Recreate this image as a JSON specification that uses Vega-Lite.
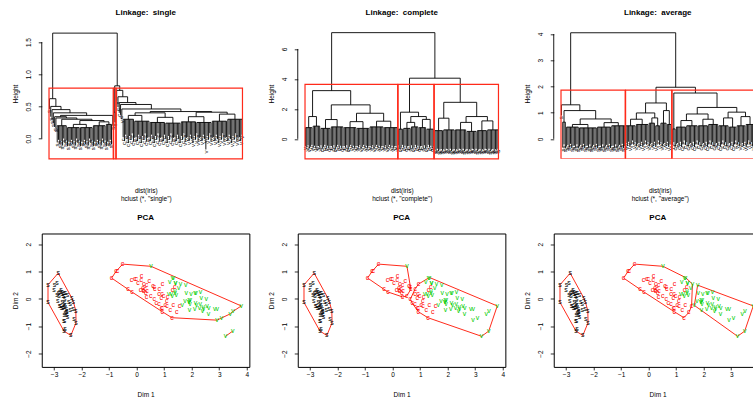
{
"$schema": "https://vega.github.io/schema/vega-lite/v6.json",
"background": "white",
"padding": {"left": 11.75, "top": 9.3, "right": 0, "bottom": 0},
"config": {
  "font": "Liberation Sans",
  "view": {"stroke": null},
  "axis": {"grid": false, "labelFontSize": 6.5, "titleFontSize": 6.5, "titleFontWeight": "normal", "labelColor": "black", "titleColor": "black", "tickColor": "black", "tickWidth": 0.8, "labelFlush": false, "labelOverlap": false},
  "title": {"fontSize": 8, "fontWeight": "bold", "color": "black"}
},
"datasets": {
"m1": [
{"a":7,"ya":0.2,"b":14,"yb":0.2,"h":0.2},{"a":15,"ya":0.17,"b":24,"yb":0.17,"h":0.17},{"a":25,"ya":0.17,"b":34,"yb":0.17,"h":0.17},{"a":35,"ya":0.2,"b":44,"yb":0.2,"h":0.2},{"a":45,"ya":0.22,"b":49,"yb":0.22,"h":0.22},
{"a":19.5,"ya":0.17,"b":29.5,"yb":0.17,"h":0.22},{"a":39.5,"ya":0.2,"b":47,"yb":0.22,"h":0.26},{"a":24.5,"ya":0.22,"b":43.25,"yb":0.26,"h":0.28},{"a":10.5,"ya":0.2,"b":33.88,"yb":0.28,"h":0.3},{"a":6,"ya":0.32,"b":22.19,"yb":0.3,"h":0.32},{"a":5,"ya":0.34,"b":14.09,"yb":0.32,"h":0.34},{"a":9.55,"ya":0.34,"b":50,"yb":0.36,"h":0.36},{"a":4,"ya":0.4,"b":29.77,"yb":0.36,"h":0.4},{"a":3,"ya":0.45,"b":16.89,"yb":0.4,"h":0.45},{"a":2,"ya":0.5,"b":9.94,"yb":0.45,"h":0.5},{"a":1,"ya":0.62,"b":5.97,"yb":0.5,"h":0.62},
{"a":51,"ya":0.41,"b":52,"yb":0.41,"h":0.41},
{"a":58,"ya":0.3,"b":66,"yb":0.3,"h":0.3},{"a":67,"ya":0.27,"b":78,"yb":0.27,"h":0.27},{"a":79,"ya":0.25,"b":90,"yb":0.25,"h":0.25},{"a":91,"ya":0.24,"b":102,"yb":0.24,"h":0.24},{"a":103,"ya":0.26,"b":114,"yb":0.26,"h":0.26},{"a":115,"ya":0.25,"b":126,"yb":0.25,"h":0.25},{"a":127,"ya":0.27,"b":138,"yb":0.27,"h":0.27},{"a":139,"ya":0.3,"b":150,"yb":0.3,"h":0.3},
{"a":62,"ya":0.3,"b":72.5,"yb":0.27,"h":0.36},{"a":84.5,"ya":0.25,"b":96.5,"yb":0.24,"h":0.33},{"a":67.25,"ya":0.36,"b":90.5,"yb":0.33,"h":0.4},{"a":108.5,"ya":0.26,"b":120.5,"yb":0.25,"h":0.34},{"a":132.5,"ya":0.27,"b":144.5,"yb":0.3,"h":0.38},{"a":114.5,"ya":0.34,"b":138.5,"yb":0.38,"h":0.41},{"a":78.88,"ya":0.4,"b":126.5,"yb":0.41,"h":0.42},{"a":57,"ya":0.46,"b":102.69,"yb":0.42,"h":0.46},{"a":56,"ya":0.53,"b":79.84,"yb":0.46,"h":0.53},{"a":55,"ya":0.56,"b":67.92,"yb":0.53,"h":0.56},{"a":54,"ya":0.65,"b":61.46,"yb":0.56,"h":0.65},{"a":53,"ya":0.75,"b":57.73,"yb":0.65,"h":0.75},
{"a":51.5,"ya":0.41,"b":55.37,"yb":0.75,"h":0.82},{"a":3.49,"ya":0.62,"b":53.43,"yb":0.82,"h":1.64}
],
"l1": [
{"i":1,"t":0.62,"b":0.46,"l":"s"},{"i":2,"t":0.5,"b":0.34,"l":"s"},{"i":3,"t":0.45,"b":0.29,"l":"s"},{"i":4,"t":0.4,"b":0.24,"l":"s"},{"i":5,"t":0.34,"b":0.18,"l":"s"},{"i":6,"t":0.32,"b":0.16,"l":"s"},
{"i":7,"t":0.2,"b":-0.06,"l":"s"},{"i":8,"t":0.2,"b":-0.02,"l":"s"},{"i":9,"t":0.2,"b":-0.09,"l":"s"},{"i":10,"t":0.2,"b":-0.04,"l":"s"},{"i":11,"t":0.2,"b":-0.11,"l":"s"},{"i":12,"t":0.2,"b":0,"l":"s"},{"i":13,"t":0.2,"b":-0.07,"l":"s"},{"i":14,"t":0.2,"b":-0.03,"l":"s"},
{"i":15,"t":0.17,"b":-0.12,"l":"s"},{"i":16,"t":0.17,"b":-0.05,"l":"s"},{"i":17,"t":0.17,"b":-0.06,"l":"s"},{"i":18,"t":0.17,"b":-0.02,"l":"s"},{"i":19,"t":0.17,"b":-0.09,"l":"s"},{"i":20,"t":0.17,"b":-0.04,"l":"s"},{"i":21,"t":0.17,"b":-0.11,"l":"s"},{"i":22,"t":0.17,"b":0,"l":"s"},{"i":23,"t":0.17,"b":-0.07,"l":"s"},{"i":24,"t":0.17,"b":-0.03,"l":"s"},
{"i":25,"t":0.17,"b":-0.12,"l":"s"},{"i":26,"t":0.17,"b":-0.05,"l":"s"},{"i":27,"t":0.17,"b":-0.06,"l":"s"},{"i":28,"t":0.17,"b":-0.02,"l":"s"},{"i":29,"t":0.17,"b":-0.09,"l":"s"},{"i":30,"t":0.17,"b":-0.04,"l":"s"},{"i":31,"t":0.17,"b":-0.11,"l":"s"},{"i":32,"t":0.17,"b":0,"l":"s"},{"i":33,"t":0.17,"b":-0.07,"l":"s"},{"i":34,"t":0.17,"b":-0.03,"l":"s"},
{"i":35,"t":0.2,"b":-0.12,"l":"s"},{"i":36,"t":0.2,"b":-0.05,"l":"s"},{"i":37,"t":0.2,"b":-0.06,"l":"s"},{"i":38,"t":0.2,"b":-0.02,"l":"s"},{"i":39,"t":0.2,"b":-0.09,"l":"s"},{"i":40,"t":0.2,"b":-0.04,"l":"s"},{"i":41,"t":0.2,"b":-0.11,"l":"s"},{"i":42,"t":0.2,"b":0,"l":"s"},{"i":43,"t":0.2,"b":-0.07,"l":"s"},{"i":44,"t":0.2,"b":-0.03,"l":"s"},
{"i":45,"t":0.22,"b":-0.12,"l":"s"},{"i":46,"t":0.22,"b":-0.05,"l":"s"},{"i":47,"t":0.22,"b":-0.06,"l":"s"},{"i":48,"t":0.22,"b":-0.02,"l":"s"},{"i":49,"t":0.22,"b":-0.09,"l":"s"},{"i":50,"t":0.36,"b":0.2,"l":"s"},
{"i":51,"t":0.41,"b":0.25,"l":"v"},{"i":52,"t":0.41,"b":0.25,"l":"v"},{"i":53,"t":0.75,"b":0.59,"l":"v"},{"i":54,"t":0.65,"b":0.49,"l":"c"},{"i":55,"t":0.56,"b":0.4,"l":"c"},{"i":56,"t":0.53,"b":0.37,"l":"c"},{"i":57,"t":0.46,"b":0.3,"l":"v"},
{"i":58,"t":0.3,"b":0.02,"l":"c"},{"i":59,"t":0.3,"b":-0.04,"l":"c"},{"i":60,"t":0.3,"b":0.06,"l":"c"},{"i":61,"t":0.3,"b":-0.01,"l":"c"},{"i":62,"t":0.3,"b":-0.07,"l":"c"},{"i":63,"t":0.3,"b":0.04,"l":"c"},{"i":64,"t":0.3,"b":-0.02,"l":"c"},{"i":65,"t":0.3,"b":0.08,"l":"c"},{"i":66,"t":0.3,"b":-0.05,"l":"c"},
{"i":67,"t":0.27,"b":0.01,"l":"c"},{"i":68,"t":0.27,"b":0.02,"l":"c"},{"i":69,"t":0.27,"b":-0.04,"l":"c"},{"i":70,"t":0.27,"b":0.06,"l":"c"},{"i":71,"t":0.27,"b":-0.01,"l":"c"},{"i":72,"t":0.27,"b":-0.07,"l":"c"},{"i":73,"t":0.27,"b":0.04,"l":"c"},{"i":74,"t":0.27,"b":-0.02,"l":"c"},{"i":75,"t":0.27,"b":0.08,"l":"c"},{"i":76,"t":0.27,"b":-0.05,"l":"c"},{"i":77,"t":0.27,"b":0.01,"l":"c"},{"i":78,"t":0.27,"b":0.02,"l":"c"},
{"i":79,"t":0.25,"b":-0.04,"l":"c"},{"i":80,"t":0.25,"b":0.06,"l":"c"},{"i":81,"t":0.25,"b":-0.01,"l":"c"},{"i":82,"t":0.25,"b":-0.07,"l":"c"},{"i":83,"t":0.25,"b":0.04,"l":"c"},{"i":84,"t":0.25,"b":-0.02,"l":"c"},{"i":85,"t":0.25,"b":0.08,"l":"c"},{"i":86,"t":0.25,"b":-0.05,"l":"c"},{"i":87,"t":0.25,"b":0.01,"l":"c"},{"i":88,"t":0.25,"b":0.02,"l":"c"},{"i":89,"t":0.25,"b":-0.04,"l":"c"},{"i":90,"t":0.25,"b":0.06,"l":"c"},
{"i":91,"t":0.24,"b":-0.01,"l":"c"},{"i":92,"t":0.24,"b":-0.07,"l":"c"},{"i":93,"t":0.24,"b":0.04,"l":"c"},{"i":94,"t":0.24,"b":-0.02,"l":"c"},{"i":95,"t":0.24,"b":0.08,"l":"c"},{"i":96,"t":0.24,"b":-0.05,"l":"c"},{"i":97,"t":0.24,"b":0.01,"l":"c"},{"i":98,"t":0.24,"b":0.02,"l":"c"},{"i":99,"t":0.24,"b":-0.04,"l":"c"},{"i":100,"t":0.24,"b":0.06,"l":"c"},{"i":101,"t":0.24,"b":-0.01,"l":"c"},{"i":102,"t":0.24,"b":-0.07,"l":"c"},
{"i":103,"t":0.26,"b":0.04,"l":"c"},{"i":104,"t":0.26,"b":-0.02,"l":"c"},{"i":105,"t":0.26,"b":0.08,"l":"v"},{"i":106,"t":0.26,"b":-0.05,"l":"v"},{"i":107,"t":0.26,"b":0.01,"l":"v"},{"i":108,"t":0.26,"b":0.02,"l":"v"},{"i":109,"t":0.26,"b":-0.04,"l":"v"},{"i":110,"t":0.26,"b":0.06,"l":"v"},{"i":111,"t":0.26,"b":-0.01,"l":"v"},{"i":112,"t":0.26,"b":-0.07,"l":"v"},{"i":113,"t":0.26,"b":0.04,"l":"v"},{"i":114,"t":0.26,"b":-0.02,"l":"v"},
{"i":115,"t":0.25,"b":0.08,"l":"v"},{"i":116,"t":0.25,"b":-0.05,"l":"v"},{"i":117,"t":0.25,"b":0.01,"l":"v"},{"i":118,"t":0.25,"b":0.02,"l":"v"},{"i":119,"t":0.25,"b":-0.04,"l":"v"},{"i":120,"t":0.25,"b":0.06,"l":"v"},{"i":121,"t":0.25,"b":-0.01,"l":"v"},{"i":122,"t":0.25,"b":-0.17,"l":"v"},{"i":123,"t":0.25,"b":0.04,"l":"v"},{"i":124,"t":0.25,"b":-0.02,"l":"v"},{"i":125,"t":0.25,"b":0.08,"l":"v"},{"i":126,"t":0.25,"b":-0.05,"l":"v"},
{"i":127,"t":0.27,"b":0.01,"l":"v"},{"i":128,"t":0.27,"b":0.02,"l":"v"},{"i":129,"t":0.27,"b":-0.04,"l":"v"},{"i":130,"t":0.27,"b":0.06,"l":"v"},{"i":131,"t":0.27,"b":-0.01,"l":"v"},{"i":132,"t":0.27,"b":-0.07,"l":"v"},{"i":133,"t":0.27,"b":0.04,"l":"v"},{"i":134,"t":0.27,"b":-0.02,"l":"v"},{"i":135,"t":0.27,"b":0.08,"l":"v"},{"i":136,"t":0.27,"b":-0.05,"l":"v"},{"i":137,"t":0.27,"b":0.01,"l":"v"},{"i":138,"t":0.27,"b":0.02,"l":"v"},
{"i":139,"t":0.3,"b":-0.04,"l":"v"},{"i":140,"t":0.3,"b":0.06,"l":"v"},{"i":141,"t":0.3,"b":-0.01,"l":"v"},{"i":142,"t":0.3,"b":-0.07,"l":"v"},{"i":143,"t":0.3,"b":0.04,"l":"v"},{"i":144,"t":0.3,"b":-0.02,"l":"v"},{"i":145,"t":0.3,"b":0.08,"l":"v"},{"i":146,"t":0.3,"b":-0.05,"l":"v"},{"i":147,"t":0.3,"b":0.01,"l":"v"},{"i":148,"t":0.3,"b":0.02,"l":"v"},{"i":149,"t":0.3,"b":-0.04,"l":"v"},{"i":150,"t":0.3,"b":0.06,"l":"v"}
],
"r1": [{"x1":0.66,"x2":50.33,"y1":-0.315,"y2":0.785},{"x1":50.66,"x2":52.33,"y1":-0.315,"y2":0.785},{"x1":52.66,"x2":150.33,"y1":-0.315,"y2":0.785}],
"m2": [
{"a":1,"ya":0.75,"b":6,"yb":0.75,"h":0.75},{"a":7,"ya":0.85,"b":12,"yb":0.85,"h":0.85},{"a":13,"ya":0.7,"b":20,"yb":0.7,"h":0.7},{"a":21,"ya":0.8,"b":30,"yb":0.8,"h":0.8},{"a":31,"ya":0.75,"b":40,"yb":0.75,"h":0.75},{"a":41,"ya":0.7,"b":50,"yb":0.7,"h":0.7},{"a":51,"ya":0.8,"b":61,"yb":0.8,"h":0.8},{"a":62,"ya":0.75,"b":72,"yb":0.75,"h":0.75},{"a":73,"ya":0.65,"b":76,"yb":0.65,"h":0.65},{"a":77,"ya":0.7,"b":82,"yb":0.7,"h":0.7},{"a":83,"ya":0.8,"b":88,"yb":0.8,"h":0.8},{"a":89,"ya":0.75,"b":94,"yb":0.75,"h":0.75},{"a":95,"ya":0.65,"b":100,"yb":0.65,"h":0.65},{"a":101,"ya":0.55,"b":107,"yb":0.55,"h":0.55},{"a":108,"ya":0.6,"b":116,"yb":0.6,"h":0.6},{"a":117,"ya":0.6,"b":125,"yb":0.6,"h":0.6},{"a":126,"ya":0.5,"b":133,"yb":0.5,"h":0.5},{"a":134,"ya":0.55,"b":141,"yb":0.55,"h":0.55},{"a":142,"ya":0.6,"b":150,"yb":0.6,"h":0.6},
{"a":3.5,"ya":0.75,"b":9.5,"yb":0.85,"h":1.49},{"a":16.5,"ya":0.7,"b":25.5,"yb":0.8,"h":1.29},{"a":35.5,"ya":0.75,"b":45.5,"yb":0.7,"h":1.15},{"a":56,"ya":0.8,"b":67,"yb":0.75,"h":1.18},{"a":40.5,"ya":1.15,"b":61.5,"yb":1.18,"h":1.71},{"a":21,"ya":1.29,"b":51,"yb":1.71,"h":2.27},{"a":6.5,"ya":1.49,"b":36,"yb":2.27,"h":3.22},
{"a":79.5,"ya":0.7,"b":85.5,"yb":0.8,"h":1.1},{"a":91.5,"ya":0.75,"b":97.5,"yb":0.65,"h":1.3},{"a":82.5,"ya":1.1,"b":94.5,"yb":1.3,"h":1.49},{"a":74.5,"ya":0.65,"b":88.5,"yb":1.49,"h":1.78},
{"a":104,"ya":0.55,"b":112,"yb":0.6,"h":1.38},{"a":121,"ya":0.6,"b":129.5,"yb":0.5,"h":1.1},{"a":137.5,"ya":0.55,"b":146,"yb":0.6,"h":1.2},{"a":125.25,"ya":1.1,"b":141.75,"yb":1.2,"h":1.49},{"a":108,"ya":1.38,"b":133.5,"yb":1.49,"h":2.44},
{"a":81.5,"ya":1.78,"b":120.75,"yb":2.44,"h":4.05},{"a":21.25,"ya":3.22,"b":101.13,"yb":4.05,"h":7.09}
],
"l2": [
{"i":1,"t":0.75,"b":-0.48,"l":"v"},{"i":2,"t":0.75,"b":-0.58,"l":"v"},{"i":3,"t":0.75,"b":-0.43,"l":"v"},{"i":4,"t":0.75,"b":-0.63,"l":"v"},{"i":5,"t":0.75,"b":-0.53,"l":"v"},{"i":6,"t":0.75,"b":-0.4,"l":"v"},{"i":7,"t":0.85,"b":-0.56,"l":"v"},{"i":8,"t":0.85,"b":-0.46,"l":"v"},{"i":9,"t":0.85,"b":-0.6,"l":"v"},{"i":10,"t":0.85,"b":-0.5,"l":"v"},{"i":11,"t":0.85,"b":-0.48,"l":"v"},{"i":12,"t":0.85,"b":-0.58,"l":"v"},
{"i":13,"t":0.7,"b":-0.43,"l":"c"},{"i":14,"t":0.7,"b":-0.63,"l":"c"},{"i":15,"t":0.7,"b":-0.53,"l":"c"},{"i":16,"t":0.7,"b":-0.4,"l":"c"},{"i":17,"t":0.7,"b":-0.56,"l":"c"},{"i":18,"t":0.7,"b":-0.46,"l":"c"},{"i":19,"t":0.7,"b":-0.6,"l":"c"},{"i":20,"t":0.7,"b":-0.5,"l":"c"},
{"i":21,"t":0.8,"b":-0.48,"l":"c"},{"i":22,"t":0.8,"b":-0.58,"l":"c"},{"i":23,"t":0.8,"b":-0.43,"l":"c"},{"i":24,"t":0.8,"b":-0.63,"l":"c"},{"i":25,"t":0.8,"b":-0.53,"l":"c"},{"i":26,"t":0.8,"b":-0.4,"l":"c"},{"i":27,"t":0.8,"b":-0.56,"l":"c"},{"i":28,"t":0.8,"b":-0.46,"l":"c"},{"i":29,"t":0.8,"b":-0.6,"l":"c"},{"i":30,"t":0.8,"b":-0.5,"l":"c"},
{"i":31,"t":0.75,"b":-0.48,"l":"c"},{"i":32,"t":0.75,"b":-0.58,"l":"c"},{"i":33,"t":0.75,"b":-0.43,"l":"c"},{"i":34,"t":0.75,"b":-0.63,"l":"c"},{"i":35,"t":0.75,"b":-0.53,"l":"c"},{"i":36,"t":0.75,"b":-0.4,"l":"v"},{"i":37,"t":0.75,"b":-0.56,"l":"v"},{"i":38,"t":0.75,"b":-0.46,"l":"v"},{"i":39,"t":0.75,"b":-0.6,"l":"v"},{"i":40,"t":0.75,"b":-0.5,"l":"v"},
{"i":41,"t":0.7,"b":-0.48,"l":"v"},{"i":42,"t":0.7,"b":-0.58,"l":"v"},{"i":43,"t":0.7,"b":-0.43,"l":"v"},{"i":44,"t":0.7,"b":-0.63,"l":"v"},{"i":45,"t":0.7,"b":-0.53,"l":"v"},{"i":46,"t":0.7,"b":-0.4,"l":"v"},{"i":47,"t":0.7,"b":-0.56,"l":"v"},{"i":48,"t":0.7,"b":-0.46,"l":"v"},{"i":49,"t":0.7,"b":-0.6,"l":"v"},{"i":50,"t":0.7,"b":-0.5,"l":"v"},
{"i":51,"t":0.8,"b":-0.48,"l":"v"},{"i":52,"t":0.8,"b":-0.58,"l":"v"},{"i":53,"t":0.8,"b":-0.43,"l":"v"},{"i":54,"t":0.8,"b":-0.63,"l":"v"},{"i":55,"t":0.8,"b":-0.53,"l":"v"},{"i":56,"t":0.8,"b":-0.4,"l":"v"},{"i":57,"t":0.8,"b":-0.56,"l":"v"},{"i":58,"t":0.8,"b":-0.46,"l":"v"},{"i":59,"t":0.8,"b":-0.6,"l":"v"},{"i":60,"t":0.8,"b":-0.5,"l":"v"},{"i":61,"t":0.8,"b":-0.48,"l":"v"},
{"i":62,"t":0.75,"b":-0.58,"l":"v"},{"i":63,"t":0.75,"b":-0.43,"l":"v"},{"i":64,"t":0.75,"b":-0.63,"l":"v"},{"i":65,"t":0.75,"b":-0.53,"l":"v"},{"i":66,"t":0.75,"b":-0.4,"l":"v"},{"i":67,"t":0.75,"b":-0.56,"l":"v"},{"i":68,"t":0.75,"b":-0.46,"l":"v"},{"i":69,"t":0.75,"b":-0.6,"l":"v"},{"i":70,"t":0.75,"b":-0.5,"l":"v"},{"i":71,"t":0.75,"b":-0.48,"l":"v"},{"i":72,"t":0.75,"b":-0.58,"l":"v"},
{"i":73,"t":0.65,"b":-0.43,"l":"c"},{"i":74,"t":0.65,"b":-0.63,"l":"c"},{"i":75,"t":0.65,"b":-0.53,"l":"c"},{"i":76,"t":0.65,"b":-0.4,"l":"c"},
{"i":77,"t":0.7,"b":-0.56,"l":"c"},{"i":78,"t":0.7,"b":-0.46,"l":"c"},{"i":79,"t":0.7,"b":-0.6,"l":"c"},{"i":80,"t":0.7,"b":-0.5,"l":"c"},{"i":81,"t":0.7,"b":-0.48,"l":"c"},{"i":82,"t":0.7,"b":-0.58,"l":"c"},
{"i":83,"t":0.8,"b":-0.43,"l":"c"},{"i":84,"t":0.8,"b":-0.63,"l":"c"},{"i":85,"t":0.8,"b":-0.53,"l":"c"},{"i":86,"t":0.8,"b":-0.4,"l":"c"},{"i":87,"t":0.8,"b":-0.56,"l":"c"},{"i":88,"t":0.8,"b":-0.46,"l":"c"},
{"i":89,"t":0.75,"b":-0.6,"l":"c"},{"i":90,"t":0.75,"b":-0.5,"l":"c"},{"i":91,"t":0.75,"b":-0.48,"l":"c"},{"i":92,"t":0.75,"b":-0.58,"l":"c"},{"i":93,"t":0.75,"b":-0.43,"l":"c"},{"i":94,"t":0.75,"b":-0.63,"l":"c"},
{"i":95,"t":0.65,"b":-0.53,"l":"c"},{"i":96,"t":0.65,"b":-0.4,"l":"c"},{"i":97,"t":0.65,"b":-0.56,"l":"c"},{"i":98,"t":0.65,"b":-0.46,"l":"c"},{"i":99,"t":0.65,"b":-0.6,"l":"c"},{"i":100,"t":0.65,"b":-0.5,"l":"v"},
{"i":101,"t":0.55,"b":-0.7,"l":"s"},{"i":102,"t":0.55,"b":-0.76,"l":"s"},{"i":103,"t":0.55,"b":-0.66,"l":"s"},{"i":104,"t":0.55,"b":-0.8,"l":"s"},{"i":105,"t":0.55,"b":-0.72,"l":"s"},{"i":106,"t":0.55,"b":-0.68,"l":"s"},{"i":107,"t":0.55,"b":-0.78,"l":"s"},
{"i":108,"t":0.6,"b":-0.7,"l":"s"},{"i":109,"t":0.6,"b":-0.74,"l":"s"},{"i":110,"t":0.6,"b":-0.66,"l":"s"},{"i":111,"t":0.6,"b":-0.7,"l":"s"},{"i":112,"t":0.6,"b":-0.76,"l":"s"},{"i":113,"t":0.6,"b":-0.66,"l":"s"},{"i":114,"t":0.6,"b":-0.8,"l":"s"},{"i":115,"t":0.6,"b":-0.72,"l":"s"},{"i":116,"t":0.6,"b":-0.68,"l":"s"},
{"i":117,"t":0.6,"b":-0.78,"l":"s"},{"i":118,"t":0.6,"b":-0.7,"l":"s"},{"i":119,"t":0.6,"b":-0.74,"l":"s"},{"i":120,"t":0.6,"b":-0.66,"l":"s"},{"i":121,"t":0.6,"b":-0.7,"l":"s"},{"i":122,"t":0.6,"b":-0.76,"l":"s"},{"i":123,"t":0.6,"b":-0.66,"l":"s"},{"i":124,"t":0.6,"b":-0.8,"l":"s"},{"i":125,"t":0.6,"b":-0.72,"l":"s"},
{"i":126,"t":0.5,"b":-0.68,"l":"s"},{"i":127,"t":0.5,"b":-0.78,"l":"s"},{"i":128,"t":0.5,"b":-0.7,"l":"s"},{"i":129,"t":0.5,"b":-0.74,"l":"s"},{"i":130,"t":0.5,"b":-0.66,"l":"s"},{"i":131,"t":0.5,"b":-0.7,"l":"s"},{"i":132,"t":0.5,"b":-0.76,"l":"s"},{"i":133,"t":0.5,"b":-0.66,"l":"s"},
{"i":134,"t":0.55,"b":-0.8,"l":"s"},{"i":135,"t":0.55,"b":-0.72,"l":"s"},{"i":136,"t":0.55,"b":-0.68,"l":"s"},{"i":137,"t":0.55,"b":-0.78,"l":"s"},{"i":138,"t":0.55,"b":-0.7,"l":"s"},{"i":139,"t":0.55,"b":-0.74,"l":"s"},{"i":140,"t":0.55,"b":-0.66,"l":"s"},{"i":141,"t":0.55,"b":-0.7,"l":"s"},
{"i":142,"t":0.6,"b":-0.76,"l":"s"},{"i":143,"t":0.6,"b":-0.66,"l":"s"},{"i":144,"t":0.6,"b":-0.8,"l":"s"},{"i":145,"t":0.6,"b":-0.72,"l":"s"},{"i":146,"t":0.6,"b":-0.68,"l":"s"},{"i":147,"t":0.6,"b":-0.78,"l":"s"},{"i":148,"t":0.6,"b":-0.7,"l":"s"},{"i":149,"t":0.6,"b":-0.74,"l":"s"},{"i":150,"t":0.6,"b":-0.66,"l":"s"}
],
"r2": [{"x1":0.66,"x2":72.33,"y1":-1.33,"y2":3.635},{"x1":72.66,"x2":100.33,"y1":-1.33,"y2":3.635},{"x1":100.66,"x2":150.33,"y1":-1.33,"y2":3.635}],
"m3": [
{"a":2,"ya":0.64,"b":4,"yb":0.64,"h":0.64},{"a":5,"ya":0.45,"b":14,"yb":0.45,"h":0.45},{"a":15,"ya":0.42,"b":28,"yb":0.42,"h":0.42},{"a":29,"ya":0.45,"b":39,"yb":0.45,"h":0.45},{"a":40,"ya":0.5,"b":50,"yb":0.5,"h":0.5},
{"a":51,"ya":0.5,"b":58,"yb":0.5,"h":0.5},{"a":59,"ya":0.55,"b":68,"yb":0.55,"h":0.55},{"a":69,"ya":0.6,"b":73,"yb":0.6,"h":0.6},{"a":74,"ya":0.5,"b":77,"yb":0.5,"h":0.5},{"a":78,"ya":0.6,"b":82,"yb":0.6,"h":0.6},{"a":83,"ya":0.55,"b":86,"yb":0.55,"h":0.55},
{"a":87,"ya":0.38,"b":89,"yb":0.38,"h":0.38},{"a":90,"ya":0.45,"b":97,"yb":0.45,"h":0.45},{"a":98,"ya":0.5,"b":106,"yb":0.5,"h":0.5},{"a":107,"ya":0.5,"b":114,"yb":0.5,"h":0.5},{"a":115,"ya":0.55,"b":122,"yb":0.55,"h":0.55},{"a":123,"ya":0.5,"b":130,"yb":0.5,"h":0.5},{"a":131,"ya":0.45,"b":136,"yb":0.45,"h":0.45},{"a":137,"ya":0.5,"b":143,"yb":0.5,"h":0.5},{"a":144,"ya":0.55,"b":150,"yb":0.55,"h":0.55},
{"a":9.5,"ya":0.45,"b":21.5,"yb":0.42,"h":0.55},{"a":34,"ya":0.45,"b":45,"yb":0.5,"h":0.62},{"a":15.5,"ya":0.55,"b":39.5,"yb":0.62,"h":0.76},{"a":3,"ya":0.64,"b":27.5,"yb":0.76,"h":1.08},{"a":1,"ya":1.3,"b":15.25,"yb":1.08,"h":1.3},
{"a":54.5,"ya":0.5,"b":63.5,"yb":0.55,"h":0.75},{"a":71,"ya":0.6,"b":75.5,"yb":0.5,"h":0.8},{"a":59,"ya":0.75,"b":73.25,"yb":0.8,"h":0.99},{"a":80,"ya":0.6,"b":84.5,"yb":0.55,"h":1.08},{"a":66.13,"ya":0.99,"b":82.25,"yb":1.08,"h":1.37},
{"a":93.5,"ya":0.45,"b":102,"yb":0.5,"h":0.7},{"a":110.5,"ya":0.5,"b":118.5,"yb":0.55,"h":0.75},{"a":97.75,"ya":0.7,"b":114.5,"yb":0.75,"h":0.95},{"a":126.5,"ya":0.5,"b":133.5,"yb":0.45,"h":0.8},{"a":140,"ya":0.5,"b":147,"yb":0.55,"h":0.85},{"a":130,"ya":0.8,"b":143.5,"yb":0.85,"h":1.02},{"a":106.13,"ya":0.95,"b":136.75,"yb":1.02,"h":1.2},{"a":88,"ya":0.38,"b":121.44,"yb":1.2,"h":1.75},
{"a":74.19,"ya":1.37,"b":104.72,"yb":1.75,"h":1.97},{"a":8.13,"ya":1.3,"b":89.45,"yb":1.97,"h":4.05}
],
"l3": [
{"i":1,"t":1.3,"b":0.9,"l":"s"},{"i":2,"t":0.64,"b":-0.33,"l":"s"},{"i":3,"t":0.64,"b":-0.21,"l":"s"},{"i":4,"t":0.64,"b":-0.36,"l":"s"},
{"i":5,"t":0.45,"b":-0.29,"l":"s"},{"i":6,"t":0.45,"b":-0.23,"l":"s"},{"i":7,"t":0.45,"b":-0.31,"l":"s"},{"i":8,"t":0.45,"b":-0.19,"l":"s"},{"i":9,"t":0.45,"b":-0.35,"l":"s"},{"i":10,"t":0.45,"b":-0.27,"l":"s"},{"i":11,"t":0.45,"b":-0.26,"l":"s"},{"i":12,"t":0.45,"b":-0.33,"l":"s"},{"i":13,"t":0.45,"b":-0.21,"l":"s"},{"i":14,"t":0.45,"b":-0.36,"l":"s"},
{"i":15,"t":0.42,"b":-0.29,"l":"s"},{"i":16,"t":0.42,"b":-0.23,"l":"s"},{"i":17,"t":0.42,"b":-0.31,"l":"s"},{"i":18,"t":0.42,"b":-0.19,"l":"s"},{"i":19,"t":0.42,"b":-0.35,"l":"s"},{"i":20,"t":0.42,"b":-0.27,"l":"s"},{"i":21,"t":0.42,"b":-0.26,"l":"s"},{"i":22,"t":0.42,"b":-0.33,"l":"s"},{"i":23,"t":0.42,"b":-0.21,"l":"s"},{"i":24,"t":0.42,"b":-0.36,"l":"s"},{"i":25,"t":0.42,"b":-0.29,"l":"s"},{"i":26,"t":0.42,"b":-0.23,"l":"s"},{"i":27,"t":0.42,"b":-0.31,"l":"s"},{"i":28,"t":0.42,"b":-0.19,"l":"s"},
{"i":29,"t":0.45,"b":-0.35,"l":"s"},{"i":30,"t":0.45,"b":-0.27,"l":"s"},{"i":31,"t":0.45,"b":-0.26,"l":"s"},{"i":32,"t":0.45,"b":-0.33,"l":"s"},{"i":33,"t":0.45,"b":-0.21,"l":"s"},{"i":34,"t":0.45,"b":-0.36,"l":"s"},{"i":35,"t":0.45,"b":-0.29,"l":"s"},{"i":36,"t":0.45,"b":-0.23,"l":"s"},{"i":37,"t":0.45,"b":-0.31,"l":"s"},{"i":38,"t":0.45,"b":-0.19,"l":"s"},{"i":39,"t":0.45,"b":-0.35,"l":"s"},
{"i":40,"t":0.5,"b":-0.27,"l":"s"},{"i":41,"t":0.5,"b":-0.26,"l":"s"},{"i":42,"t":0.5,"b":-0.33,"l":"s"},{"i":43,"t":0.5,"b":-0.21,"l":"s"},{"i":44,"t":0.5,"b":-0.36,"l":"s"},{"i":45,"t":0.5,"b":-0.29,"l":"s"},{"i":46,"t":0.5,"b":-0.23,"l":"s"},{"i":47,"t":0.5,"b":-0.31,"l":"s"},{"i":48,"t":0.5,"b":-0.19,"l":"s"},{"i":49,"t":0.5,"b":-0.35,"l":"s"},{"i":50,"t":0.5,"b":-0.27,"l":"s"},
{"i":51,"t":0.5,"b":-0.16,"l":"v"},{"i":52,"t":0.5,"b":-0.26,"l":"v"},{"i":53,"t":0.5,"b":-0.11,"l":"v"},{"i":54,"t":0.5,"b":-0.31,"l":"v"},{"i":55,"t":0.5,"b":-0.21,"l":"v"},{"i":56,"t":0.5,"b":-0.06,"l":"v"},{"i":57,"t":0.5,"b":-0.23,"l":"v"},{"i":58,"t":0.5,"b":-0.13,"l":"v"},
{"i":59,"t":0.55,"b":-0.29,"l":"v"},{"i":60,"t":0.55,"b":-0.19,"l":"v"},{"i":61,"t":0.55,"b":-0.16,"l":"v"},{"i":62,"t":0.55,"b":-0.26,"l":"v"},{"i":63,"t":0.55,"b":-0.11,"l":"v"},{"i":64,"t":0.55,"b":-0.31,"l":"v"},{"i":65,"t":0.55,"b":-0.21,"l":"v"},{"i":66,"t":0.55,"b":-0.06,"l":"v"},{"i":67,"t":0.55,"b":-0.23,"l":"v"},{"i":68,"t":0.55,"b":-0.13,"l":"v"},
{"i":69,"t":0.6,"b":-0.29,"l":"v"},{"i":70,"t":0.6,"b":-0.19,"l":"v"},{"i":71,"t":0.6,"b":-0.16,"l":"v"},{"i":72,"t":0.6,"b":-0.26,"l":"v"},{"i":73,"t":0.6,"b":-0.11,"l":"v"},
{"i":74,"t":0.5,"b":-0.31,"l":"v"},{"i":75,"t":0.5,"b":-0.21,"l":"v"},{"i":76,"t":0.5,"b":-0.06,"l":"v"},{"i":77,"t":0.5,"b":-0.23,"l":"v"},
{"i":78,"t":0.6,"b":-0.13,"l":"v"},{"i":79,"t":0.6,"b":-0.29,"l":"v"},{"i":80,"t":0.6,"b":-0.19,"l":"v"},{"i":81,"t":0.6,"b":-0.16,"l":"v"},{"i":82,"t":0.6,"b":-0.26,"l":"v"},
{"i":83,"t":0.55,"b":-0.11,"l":"v"},{"i":84,"t":0.55,"b":-0.31,"l":"v"},{"i":85,"t":0.55,"b":-0.21,"l":"v"},{"i":86,"t":0.55,"b":-0.06,"l":"v"},
{"i":87,"t":0.38,"b":-0.23,"l":"c"},{"i":88,"t":0.38,"b":-0.13,"l":"c"},{"i":89,"t":0.38,"b":-0.29,"l":"c"},
{"i":90,"t":0.45,"b":-0.19,"l":"c"},{"i":91,"t":0.45,"b":-0.16,"l":"c"},{"i":92,"t":0.45,"b":-0.26,"l":"c"},{"i":93,"t":0.45,"b":-0.11,"l":"c"},{"i":94,"t":0.45,"b":-0.31,"l":"c"},{"i":95,"t":0.45,"b":-0.21,"l":"c"},{"i":96,"t":0.45,"b":-0.06,"l":"c"},{"i":97,"t":0.45,"b":-0.23,"l":"c"},
{"i":98,"t":0.5,"b":-0.13,"l":"c"},{"i":99,"t":0.5,"b":-0.29,"l":"c"},{"i":100,"t":0.5,"b":-0.19,"l":"c"},{"i":101,"t":0.5,"b":-0.16,"l":"c"},{"i":102,"t":0.5,"b":-0.26,"l":"c"},{"i":103,"t":0.5,"b":-0.11,"l":"c"},{"i":104,"t":0.5,"b":-0.31,"l":"c"},{"i":105,"t":0.5,"b":-0.21,"l":"c"},{"i":106,"t":0.5,"b":-0.06,"l":"c"},
{"i":107,"t":0.5,"b":-0.23,"l":"c"},{"i":108,"t":0.5,"b":-0.13,"l":"c"},{"i":109,"t":0.5,"b":-0.29,"l":"c"},{"i":110,"t":0.5,"b":-0.19,"l":"c"},{"i":111,"t":0.5,"b":-0.16,"l":"c"},{"i":112,"t":0.5,"b":-0.26,"l":"c"},{"i":113,"t":0.5,"b":-0.11,"l":"c"},{"i":114,"t":0.5,"b":-0.31,"l":"c"},
{"i":115,"t":0.55,"b":-0.21,"l":"c"},{"i":116,"t":0.55,"b":-0.06,"l":"c"},{"i":117,"t":0.55,"b":-0.23,"l":"c"},{"i":118,"t":0.55,"b":-0.13,"l":"c"},{"i":119,"t":0.55,"b":-0.29,"l":"c"},{"i":120,"t":0.55,"b":-0.19,"l":"c"},{"i":121,"t":0.55,"b":-0.16,"l":"c"},{"i":122,"t":0.55,"b":-0.26,"l":"c"},
{"i":123,"t":0.5,"b":-0.11,"l":"c"},{"i":124,"t":0.5,"b":-0.31,"l":"c"},{"i":125,"t":0.5,"b":-0.21,"l":"c"},{"i":126,"t":0.5,"b":-0.06,"l":"c"},{"i":127,"t":0.5,"b":-0.23,"l":"c"},{"i":128,"t":0.5,"b":-0.13,"l":"c"},{"i":129,"t":0.5,"b":-0.29,"l":"c"},{"i":130,"t":0.5,"b":-0.19,"l":"c"},
{"i":131,"t":0.45,"b":-0.16,"l":"c"},{"i":132,"t":0.45,"b":-0.26,"l":"c"},{"i":133,"t":0.45,"b":-0.11,"l":"c"},{"i":134,"t":0.45,"b":-0.31,"l":"c"},{"i":135,"t":0.45,"b":-0.21,"l":"c"},{"i":136,"t":0.45,"b":-0.06,"l":"c"},
{"i":137,"t":0.5,"b":-0.23,"l":"v"},{"i":138,"t":0.5,"b":-0.13,"l":"v"},{"i":139,"t":0.5,"b":-0.29,"l":"v"},{"i":140,"t":0.5,"b":-0.19,"l":"v"},{"i":141,"t":0.5,"b":-0.16,"l":"v"},{"i":142,"t":0.5,"b":-0.26,"l":"v"},{"i":143,"t":0.5,"b":-0.11,"l":"v"},
{"i":144,"t":0.55,"b":-0.31,"l":"v"},{"i":145,"t":0.55,"b":-0.21,"l":"v"},{"i":146,"t":0.55,"b":-0.06,"l":"v"},{"i":147,"t":0.55,"b":-0.23,"l":"v"},{"i":148,"t":0.55,"b":-0.13,"l":"v"},{"i":149,"t":0.55,"b":-0.29,"l":"v"},{"i":150,"t":0.55,"b":-0.19,"l":"v"}
],
"r3": [{"x1":0.66,"x2":50.33,"y1":-0.76,"y2":1.86},{"x1":50.66,"x2":86.33,"y1":-0.76,"y2":1.86},{"x1":86.66,"x2":150.33,"y1":-0.76,"y2":1.86}],
"pts": [
{"x":-2.68,"y":-0.32,"s":"s"},{"x":-2.71,"y":0.18,"s":"s"},{"x":-2.89,"y":0.14,"s":"s"},{"x":-2.75,"y":0.32,"s":"s"},{"x":-2.73,"y":-0.33,"s":"s"},{"x":-2.28,"y":-0.74,"s":"s"},{"x":-2.82,"y":0.09,"s":"s"},{"x":-2.63,"y":-0.16,"s":"s"},{"x":-2.89,"y":0.58,"s":"s"},{"x":-2.67,"y":0.11,"s":"s"},
{"x":-2.51,"y":-0.65,"s":"s"},{"x":-2.61,"y":-0.01,"s":"s"},{"x":-2.79,"y":0.24,"s":"s"},{"x":-3.22,"y":0.51,"s":"s"},{"x":-2.64,"y":-1.18,"s":"s"},{"x":-2.39,"y":-1.34,"s":"s"},{"x":-2.62,"y":-0.81,"s":"s"},{"x":-2.65,"y":-0.31,"s":"s"},{"x":-2.2,"y":-0.87,"s":"s"},{"x":-2.59,"y":-0.51,"s":"s"},
{"x":-2.31,"y":-0.39,"s":"s"},{"x":-2.54,"y":-0.43,"s":"s"},{"x":-3.22,"y":-0.13,"s":"s"},{"x":-2.3,"y":-0.1,"s":"s"},{"x":-2.36,"y":0.04,"s":"s"},{"x":-2.51,"y":0.15,"s":"s"},{"x":-2.47,"y":-0.13,"s":"s"},{"x":-2.56,"y":-0.37,"s":"s"},{"x":-2.64,"y":-0.31,"s":"s"},{"x":-2.63,"y":0.2,"s":"s"},
{"x":-2.59,"y":0.2,"s":"s"},{"x":-2.41,"y":-0.41,"s":"s"},{"x":-2.65,"y":-0.81,"s":"s"},{"x":-2.6,"y":-1.09,"s":"s"},{"x":-2.64,"y":0.12,"s":"s"},{"x":-2.87,"y":-0.07,"s":"s"},{"x":-2.63,"y":-0.6,"s":"s"},{"x":-2.8,"y":-0.27,"s":"s"},{"x":-2.98,"y":0.49,"s":"s"},{"x":-2.59,"y":-0.23,"s":"s"},
{"x":-2.77,"y":-0.26,"s":"s"},{"x":-2.85,"y":0.94,"s":"s"},{"x":-3.0,"y":0.34,"s":"s"},{"x":-2.41,"y":-0.19,"s":"s"},{"x":-2.21,"y":-0.44,"s":"s"},{"x":-2.71,"y":0.25,"s":"s"},{"x":-2.54,"y":-0.5,"s":"s"},{"x":-2.84,"y":0.23,"s":"s"},{"x":-2.54,"y":-0.58,"s":"s"},{"x":-2.7,"y":-0.11,"s":"s"},
{"x":1.28,"y":-0.69,"s":"c"},{"x":0.93,"y":-0.32,"s":"c"},{"x":1.46,"y":-0.5,"s":"c"},{"x":0.18,"y":0.83,"s":"c"},{"x":1.09,"y":-0.07,"s":"c"},{"x":0.64,"y":0.42,"s":"c"},{"x":1.1,"y":-0.28,"s":"c"},{"x":-0.75,"y":1.0,"s":"c"},{"x":1.04,"y":-0.23,"s":"c"},{"x":-0.01,"y":0.72,"s":"c"},
{"x":-0.51,"y":1.27,"s":"c"},{"x":0.51,"y":0.1,"s":"c"},{"x":0.26,"y":0.55,"s":"c"},{"x":0.98,"y":0.12,"s":"c"},{"x":-0.17,"y":0.25,"s":"c"},{"x":0.93,"y":-0.47,"s":"c"},{"x":0.66,"y":0.35,"s":"c"},{"x":0.24,"y":0.33,"s":"c"},{"x":0.94,"y":0.54,"s":"c"},{"x":0.05,"y":0.58,"s":"c"},
{"x":1.12,"y":0.08,"s":"c"},{"x":0.36,"y":0.07,"s":"c"},{"x":1.3,"y":0.33,"s":"c"},{"x":0.92,"y":0.18,"s":"c"},{"x":0.71,"y":-0.15,"s":"c"},{"x":0.9,"y":-0.33,"s":"c"},{"x":1.33,"y":-0.24,"s":"c"},{"x":1.56,"y":-0.27,"s":"c"},{"x":0.81,"y":0.16,"s":"c"},{"x":-0.31,"y":0.37,"s":"c"},
{"x":-0.07,"y":0.71,"s":"c"},{"x":-0.19,"y":0.68,"s":"c"},{"x":0.14,"y":0.31,"s":"c"},{"x":1.38,"y":0.42,"s":"c"},{"x":0.59,"y":0.48,"s":"c"},{"x":0.81,"y":-0.19,"s":"c"},{"x":1.22,"y":-0.41,"s":"c"},{"x":0.82,"y":0.37,"s":"c"},{"x":0.25,"y":0.27,"s":"c"},{"x":0.17,"y":0.68,"s":"c"},
{"x":0.46,"y":0.67,"s":"c"},{"x":0.89,"y":0.03,"s":"c"},{"x":0.23,"y":0.4,"s":"c"},{"x":-0.7,"y":1.01,"s":"c"},{"x":0.36,"y":0.5,"s":"c"},{"x":0.33,"y":0.21,"s":"c"},{"x":0.38,"y":0.29,"s":"c"},{"x":0.64,"y":-0.02,"s":"c"},{"x":-0.91,"y":0.76,"s":"c"},{"x":0.3,"y":0.35,"s":"c"},
{"x":2.53,"y":0.01,"s":"v"},{"x":1.41,"y":0.57,"s":"v"},{"x":2.62,"y":-0.34,"s":"v"},{"x":1.97,"y":0.18,"s":"v"},{"x":2.35,"y":0.04,"s":"v"},{"x":3.4,"y":-0.55,"s":"v"},{"x":0.52,"y":1.19,"s":"v"},{"x":2.93,"y":-0.36,"s":"v"},{"x":2.32,"y":0.24,"s":"v"},{"x":2.92,"y":-0.78,"s":"v"},
{"x":1.66,"y":-0.24,"s":"v"},{"x":1.8,"y":0.22,"s":"v"},{"x":2.17,"y":-0.22,"s":"v"},{"x":1.34,"y":0.78,"s":"v"},{"x":1.59,"y":0.54,"s":"v"},{"x":1.9,"y":-0.12,"s":"v"},{"x":1.95,"y":-0.04,"s":"v"},{"x":3.49,"y":-1.18,"s":"v"},{"x":3.8,"y":-0.26,"s":"v"},{"x":1.3,"y":0.76,"s":"v"},
{"x":2.43,"y":-0.38,"s":"v"},{"x":1.2,"y":0.61,"s":"v"},{"x":3.5,"y":-0.46,"s":"v"},{"x":1.39,"y":0.2,"s":"v"},{"x":2.28,"y":-0.33,"s":"v"},{"x":2.61,"y":-0.56,"s":"v"},{"x":1.26,"y":0.18,"s":"v"},{"x":1.29,"y":0.12,"s":"v"},{"x":2.12,"y":0.21,"s":"v"},{"x":2.39,"y":-0.46,"s":"v"},
{"x":2.84,"y":-0.38,"s":"v"},{"x":3.23,"y":-1.37,"s":"v"},{"x":2.16,"y":0.22,"s":"v"},{"x":1.44,"y":0.14,"s":"v"},{"x":1.78,"y":0.5,"s":"v"},{"x":3.08,"y":-0.69,"s":"v"},{"x":2.14,"y":-0.14,"s":"v"},{"x":1.91,"y":-0.05,"s":"v"},{"x":1.17,"y":0.16,"s":"v"},{"x":2.11,"y":-0.37,"s":"v"},
{"x":2.31,"y":-0.18,"s":"v"},{"x":1.92,"y":-0.41,"s":"v"},{"x":1.41,"y":0.57,"s":"v"},{"x":2.56,"y":-0.28,"s":"v"},{"x":2.42,"y":-0.3,"s":"v"},{"x":1.94,"y":-0.19,"s":"v"},{"x":1.53,"y":0.38,"s":"v"},{"x":1.76,"y":-0.08,"s":"v"},{"x":1.9,"y":-0.12,"s":"v"},{"x":1.39,"y":0.28,"s":"v"}
],
"hull": [
{"p":1,"g":1,"o":1,"x":-2.85,"y":0.94},{"p":1,"g":1,"o":2,"x":-2.36,"y":0.04},{"p":1,"g":1,"o":3,"x":-2.3,"y":-0.1},{"p":1,"g":1,"o":4,"x":-2.21,"y":-0.44},{"p":1,"g":1,"o":5,"x":-2.2,"y":-0.87},{"p":1,"g":1,"o":6,"x":-2.39,"y":-1.34},{"p":1,"g":1,"o":7,"x":-2.64,"y":-1.18},{"p":1,"g":1,"o":8,"x":-3.22,"y":-0.13},{"p":1,"g":1,"o":9,"x":-3.22,"y":0.51},{"p":1,"g":1,"o":10,"x":-2.85,"y":0.94},
{"p":1,"g":2,"o":1,"x":-0.91,"y":0.76},{"p":1,"g":2,"o":2,"x":-0.75,"y":1.0},{"p":1,"g":2,"o":3,"x":-0.51,"y":1.27},{"p":1,"g":2,"o":4,"x":0.52,"y":1.19},{"p":1,"g":2,"o":5,"x":3.8,"y":-0.26},{"p":1,"g":2,"o":6,"x":3.5,"y":-0.46},{"p":1,"g":2,"o":7,"x":3.4,"y":-0.55},{"p":1,"g":2,"o":8,"x":2.92,"y":-0.78},{"p":1,"g":2,"o":9,"x":1.28,"y":-0.69},{"p":1,"g":2,"o":10,"x":0.93,"y":-0.47},{"p":1,"g":2,"o":11,"x":-0.17,"y":0.25},{"p":1,"g":2,"o":12,"x":-0.91,"y":0.76},
{"p":1,"g":3,"o":1,"x":3.49,"y":-1.18},{"p":1,"g":3,"o":2,"x":3.23,"y":-1.37},
{"p":2,"g":1,"o":1,"x":-2.85,"y":0.94},{"p":2,"g":1,"o":2,"x":-2.36,"y":0.04},{"p":2,"g":1,"o":3,"x":-2.3,"y":-0.1},{"p":2,"g":1,"o":4,"x":-2.21,"y":-0.44},{"p":2,"g":1,"o":5,"x":-2.2,"y":-0.87},{"p":2,"g":1,"o":6,"x":-2.39,"y":-1.34},{"p":2,"g":1,"o":7,"x":-2.64,"y":-1.18},{"p":2,"g":1,"o":8,"x":-3.22,"y":-0.13},{"p":2,"g":1,"o":9,"x":-3.22,"y":0.51},{"p":2,"g":1,"o":10,"x":-2.85,"y":0.94},
{"p":2,"g":2,"o":1,"x":-0.91,"y":0.76},{"p":2,"g":2,"o":2,"x":-0.75,"y":1.0},{"p":2,"g":2,"o":3,"x":-0.51,"y":1.27},{"p":2,"g":2,"o":4,"x":0.52,"y":1.19},{"p":2,"g":2,"o":5,"x":0.66,"y":0.35},{"p":2,"g":2,"o":6,"x":0.51,"y":0.1},{"p":2,"g":2,"o":7,"x":0.36,"y":0.07},{"p":2,"g":2,"o":8,"x":-0.17,"y":0.25},{"p":2,"g":2,"o":9,"x":-0.91,"y":0.76},
{"p":2,"g":3,"o":1,"x":0.64,"y":-0.02},{"p":2,"g":3,"o":2,"x":0.82,"y":0.37},{"p":2,"g":3,"o":3,"x":0.94,"y":0.54},{"p":2,"g":3,"o":4,"x":1.3,"y":0.76},{"p":2,"g":3,"o":5,"x":1.34,"y":0.78},{"p":2,"g":3,"o":6,"x":3.8,"y":-0.26},{"p":2,"g":3,"o":7,"x":3.49,"y":-1.18},{"p":2,"g":3,"o":8,"x":3.23,"y":-1.37},{"p":2,"g":3,"o":9,"x":1.28,"y":-0.69},{"p":2,"g":3,"o":10,"x":0.93,"y":-0.47},{"p":2,"g":3,"o":11,"x":0.71,"y":-0.15},{"p":2,"g":3,"o":12,"x":0.64,"y":-0.02},
{"p":3,"g":1,"o":1,"x":-2.85,"y":0.94},{"p":3,"g":1,"o":2,"x":-2.36,"y":0.04},{"p":3,"g":1,"o":3,"x":-2.3,"y":-0.1},{"p":3,"g":1,"o":4,"x":-2.21,"y":-0.44},{"p":3,"g":1,"o":5,"x":-2.2,"y":-0.87},{"p":3,"g":1,"o":6,"x":-2.39,"y":-1.34},{"p":3,"g":1,"o":7,"x":-2.64,"y":-1.18},{"p":3,"g":1,"o":8,"x":-3.22,"y":-0.13},{"p":3,"g":1,"o":9,"x":-3.22,"y":0.51},{"p":3,"g":1,"o":10,"x":-2.85,"y":0.94},
{"p":3,"g":2,"o":1,"x":-0.91,"y":0.76},{"p":3,"g":2,"o":2,"x":-0.75,"y":1.0},{"p":3,"g":2,"o":3,"x":-0.51,"y":1.27},{"p":3,"g":2,"o":4,"x":0.52,"y":1.19},{"p":3,"g":2,"o":5,"x":1.34,"y":0.78},{"p":3,"g":2,"o":6,"x":1.59,"y":0.54},{"p":3,"g":2,"o":7,"x":1.56,"y":-0.27},{"p":3,"g":2,"o":8,"x":1.46,"y":-0.5},{"p":3,"g":2,"o":9,"x":1.28,"y":-0.69},{"p":3,"g":2,"o":10,"x":0.93,"y":-0.47},{"p":3,"g":2,"o":11,"x":-0.17,"y":0.25},{"p":3,"g":2,"o":12,"x":-0.91,"y":0.76},
{"p":3,"g":3,"o":1,"x":1.78,"y":0.5},{"p":3,"g":3,"o":2,"x":3.8,"y":-0.26},{"p":3,"g":3,"o":3,"x":3.49,"y":-1.18},{"p":3,"g":3,"o":4,"x":3.23,"y":-1.37},{"p":3,"g":3,"o":5,"x":1.66,"y":-0.24},{"p":3,"g":3,"o":6,"x":1.78,"y":0.5}
]
},
"columns": 3,
"spacing": {"row": 74.2, "column": 48},
"bounds": "flush",
"concat": [
{
 "width": 208, "height": 130.5,
 "title": {"text": "Linkage:\u00a0 single", "offset": 11},
 "layer": [
  {"data": {"name": "m1"}, "mark": {"type": "rule", "color": "black", "strokeWidth": 0.9},
   "encoding": {"x": {"field": "a", "type": "quantitative", "scale": {"domain": [-4.96, 155.96], "nice": false, "zero": false}, "axis": {"title": ["dist(iris)", "hclust (*, \"single\")"], "labels": false, "ticks": false, "domain": false, "titleX": 104, "titleY": 28.5, "titleBaseline": "top", "titleLineHeight": 8}},
    "y": {"field": "ya", "type": "quantitative", "scale": {"domain": [-0.315, 1.715], "nice": false, "zero": false}, "axis": {"title": "Height", "values": [0, 0.5, 1, 1.5], "tickCount": 20, "format": ".1f", "domain": false, "labelOverlap": false, "labelAngle": 270, "labelAlign": "center", "labelBaseline": "bottom", "labelPadding": 6.5, "tickSize": 3.5, "titleX": -26, "titleY": 65.25, "titleAngle": 270, "titleAlign": "center", "titleBaseline": "middle"}},
    "y2": {"field": "h"}}},
  {"data": {"name": "m1"}, "mark": {"type": "rule", "color": "black", "strokeWidth": 0.9},
   "encoding": {"x": {"field": "b", "type": "quantitative"}, "y": {"field": "yb", "type": "quantitative"}, "y2": {"field": "h"}}},
  {"data": {"name": "m1"}, "mark": {"type": "rule", "color": "black", "strokeWidth": 0.9},
   "encoding": {"x": {"field": "a", "type": "quantitative"}, "x2": {"field": "b"}, "y": {"field": "h", "type": "quantitative"}}},
  {"data": {"name": "l1"}, "mark": {"type": "rule", "color": "black", "strokeWidth": 0.9},
   "encoding": {"x": {"field": "i", "type": "quantitative"}, "y": {"field": "t", "type": "quantitative"}, "y2": {"field": "b"}}},
  {"data": {"name": "l1"}, "mark": {"type": "text", "angle": 270, "align": "right", "baseline": "middle", "fontSize": 6, "dx": -1, "color": "black"},
   "encoding": {"x": {"field": "i", "type": "quantitative"}, "y": {"field": "b", "type": "quantitative"}, "text": {"field": "l"}}},
  {"data": {"name": "r1"}, "mark": {"type": "rect", "fill": "transparent", "stroke": "#ff2a1a", "strokeWidth": 1.2},
   "encoding": {"x": {"field": "x1", "type": "quantitative"}, "x2": {"field": "x2"}, "y": {"field": "y1", "type": "quantitative"}, "y2": {"field": "y2"}}},
  {"data": {"values": [{}]}, "mark": {"type": "rule", "color": "black", "strokeWidth": 0.9},
   "encoding": {"x": {"datum": -4.96, "type": "quantitative"}, "y": {"datum": 0, "type": "quantitative"}, "y2": {"datum": 1.5}}}
 ]
},
{
 "width": 208, "height": 130.5,
 "title": {"text": "Linkage:\u00a0 complete", "offset": 11},
 "layer": [
  {"data": {"name": "m2"}, "mark": {"type": "rule", "color": "black", "strokeWidth": 0.9},
   "encoding": {"x": {"field": "a", "type": "quantitative", "scale": {"domain": [-4.96, 155.96], "nice": false, "zero": false}, "axis": {"title": ["dist(iris)", "hclust (*, \"complete\")"], "labels": false, "ticks": false, "domain": false, "titleX": 104, "titleY": 28.5, "titleBaseline": "top", "titleLineHeight": 8}},
    "y": {"field": "ya", "type": "quantitative", "scale": {"domain": [-1.33, 7.38], "nice": false, "zero": false}, "axis": {"title": "Height", "values": [0, 2, 4, 6], "tickCount": 20, "format": "d", "domain": false, "labelOverlap": false, "labelAngle": 270, "labelAlign": "center", "labelBaseline": "bottom", "labelPadding": 6.5, "tickSize": 3.5, "titleX": -26, "titleY": 65.25, "titleAngle": 270, "titleAlign": "center", "titleBaseline": "middle"}},
    "y2": {"field": "h"}}},
  {"data": {"name": "m2"}, "mark": {"type": "rule", "color": "black", "strokeWidth": 0.9},
   "encoding": {"x": {"field": "b", "type": "quantitative"}, "y": {"field": "yb", "type": "quantitative"}, "y2": {"field": "h"}}},
  {"data": {"name": "m2"}, "mark": {"type": "rule", "color": "black", "strokeWidth": 0.9},
   "encoding": {"x": {"field": "a", "type": "quantitative"}, "x2": {"field": "b"}, "y": {"field": "h", "type": "quantitative"}}},
  {"data": {"name": "l2"}, "mark": {"type": "rule", "color": "black", "strokeWidth": 0.9},
   "encoding": {"x": {"field": "i", "type": "quantitative"}, "y": {"field": "t", "type": "quantitative"}, "y2": {"field": "b"}}},
  {"data": {"name": "l2"}, "mark": {"type": "text", "angle": 270, "align": "right", "baseline": "middle", "fontSize": 6, "dx": -1, "color": "black"},
   "encoding": {"x": {"field": "i", "type": "quantitative"}, "y": {"field": "b", "type": "quantitative"}, "text": {"field": "l"}}},
  {"data": {"name": "r2"}, "mark": {"type": "rect", "fill": "transparent", "stroke": "#ff2a1a", "strokeWidth": 1.2},
   "encoding": {"x": {"field": "x1", "type": "quantitative"}, "x2": {"field": "x2"}, "y": {"field": "y1", "type": "quantitative"}, "y2": {"field": "y2"}}},
  {"data": {"values": [{}]}, "mark": {"type": "rule", "color": "black", "strokeWidth": 0.9},
   "encoding": {"x": {"datum": -4.96, "type": "quantitative"}, "y": {"datum": 0, "type": "quantitative"}, "y2": {"datum": 6}}}
 ]
},
{
 "width": 200, "height": 130.5,
 "title": {"text": "Linkage:\u00a0 average", "offset": 11, "dx": 4},
 "layer": [
  {"data": {"name": "m3"}, "mark": {"type": "rule", "color": "black", "strokeWidth": 0.9, "clip": true},
   "encoding": {"x": {"field": "a", "type": "quantitative", "scale": {"domain": [-4.96, 149.87], "nice": false, "zero": false}, "axis": {"title": ["dist(iris)", "hclust (*, \"average\")"], "labels": false, "ticks": false, "domain": false, "titleX": 106, "titleY": 28.5, "titleBaseline": "top", "titleLineHeight": 8}},
    "y": {"field": "ya", "type": "quantitative", "scale": {"domain": [-0.76, 4.22], "nice": false, "zero": false}, "axis": {"title": "Height", "values": [0, 1, 2, 3, 4], "tickCount": 20, "format": "d", "domain": false, "labelOverlap": false, "labelAngle": 270, "labelAlign": "center", "labelBaseline": "bottom", "labelPadding": 6.5, "tickSize": 3.5, "titleX": -26, "titleY": 65.25, "titleAngle": 270, "titleAlign": "center", "titleBaseline": "middle"}},
    "y2": {"field": "h"}}},
  {"data": {"name": "m3"}, "mark": {"type": "rule", "color": "black", "strokeWidth": 0.9, "clip": true},
   "encoding": {"x": {"field": "b", "type": "quantitative"}, "y": {"field": "yb", "type": "quantitative"}, "y2": {"field": "h"}}},
  {"data": {"name": "m3"}, "mark": {"type": "rule", "color": "black", "strokeWidth": 0.9, "clip": true},
   "encoding": {"x": {"field": "a", "type": "quantitative"}, "x2": {"field": "b"}, "y": {"field": "h", "type": "quantitative"}}},
  {"data": {"name": "l3"}, "mark": {"type": "rule", "color": "black", "strokeWidth": 0.9, "clip": true},
   "encoding": {"x": {"field": "i", "type": "quantitative"}, "y": {"field": "t", "type": "quantitative"}, "y2": {"field": "b"}}},
  {"data": {"name": "l3"}, "mark": {"type": "text", "angle": 270, "align": "right", "baseline": "middle", "fontSize": 6, "dx": -1, "color": "black", "clip": true},
   "encoding": {"x": {"field": "i", "type": "quantitative"}, "y": {"field": "b", "type": "quantitative"}, "text": {"field": "l"}}},
  {"data": {"name": "r3"}, "mark": {"type": "rect", "fill": "transparent", "stroke": "#ff2a1a", "strokeWidth": 1.2, "clip": true},
   "encoding": {"x": {"field": "x1", "type": "quantitative"}, "x2": {"field": "x2"}, "y": {"field": "y1", "type": "quantitative"}, "y2": {"field": "y2"}}},
  {"data": {"values": [{}]}, "mark": {"type": "rule", "color": "black", "strokeWidth": 0.9},
   "encoding": {"x": {"datum": -4.96, "type": "quantitative"}, "y": {"datum": 0, "type": "quantitative"}, "y2": {"datum": 4}}}
 ]
},
{
 "width": 207.6, "height": 133.4,
 "title": {"text": "PCA", "offset": 11},
 "view": {"stroke": "black", "strokeWidth": 1},
 "layer": [
  {"data": {"name": "hull"}, "transform": [{"filter": "datum.p == 1"}], "mark": {"type": "line", "color": "#ff2a1a", "strokeWidth": 1, "clip": true},
   "encoding": {"x": {"field": "x", "type": "quantitative", "scale": {"domain": [-3.447, 4.094], "nice": false, "zero": false}, "axis": {"title": "Dim 1", "values": [-3, -2, -1, 0, 1, 2, 3, 4], "tickCount": 20, "format": "d", "domain": false, "labelOverlap": false, "tickSize": 3, "labelPadding": 1.5, "titleX": 103.8, "titleY": 27.3, "titleBaseline": "middle"}},
    "y": {"field": "y", "type": "quantitative", "scale": {"domain": [-2.49, 2.39], "nice": false, "zero": false}, "axis": {"title": "Dim 2", "values": [-2, -1, 0, 1, 2], "tickCount": 20, "format": "d", "domain": false, "labelOverlap": false, "labelAngle": 270, "labelAlign": "center", "labelBaseline": "bottom", "labelPadding": 6.5, "tickSize": 3.5, "titleX": -26, "titleY": 66.7, "titleAngle": 270, "titleAlign": "center", "titleBaseline": "middle"}},
    "detail": {"field": "g"}, "order": {"field": "o"}}},
  {"data": {"name": "pts"}, "mark": {"type": "text", "fontSize": 7, "clip": true},
   "encoding": {"x": {"field": "x", "type": "quantitative"}, "y": {"field": "y", "type": "quantitative"}, "text": {"field": "s"},
    "color": {"field": "s", "type": "nominal", "scale": {"domain": ["s", "c", "v"], "range": ["#000000", "#ff0000", "#00cd00"]}, "legend": null}}}
 ]
},
{
 "width": 207.6, "height": 133.4,
 "title": {"text": "PCA", "offset": 11},
 "view": {"stroke": "black", "strokeWidth": 1},
 "layer": [
  {"data": {"name": "hull"}, "transform": [{"filter": "datum.p == 2"}], "mark": {"type": "line", "color": "#ff2a1a", "strokeWidth": 1, "clip": true},
   "encoding": {"x": {"field": "x", "type": "quantitative", "scale": {"domain": [-3.447, 4.094], "nice": false, "zero": false}, "axis": {"title": "Dim 1", "values": [-3, -2, -1, 0, 1, 2, 3, 4], "tickCount": 20, "format": "d", "domain": false, "labelOverlap": false, "tickSize": 3, "labelPadding": 1.5, "titleX": 103.8, "titleY": 27.3, "titleBaseline": "middle"}},
    "y": {"field": "y", "type": "quantitative", "scale": {"domain": [-2.49, 2.39], "nice": false, "zero": false}, "axis": {"title": "Dim 2", "values": [-2, -1, 0, 1, 2], "tickCount": 20, "format": "d", "domain": false, "labelOverlap": false, "labelAngle": 270, "labelAlign": "center", "labelBaseline": "bottom", "labelPadding": 6.5, "tickSize": 3.5, "titleX": -26, "titleY": 66.7, "titleAngle": 270, "titleAlign": "center", "titleBaseline": "middle"}},
    "detail": {"field": "g"}, "order": {"field": "o"}}},
  {"data": {"name": "pts"}, "mark": {"type": "text", "fontSize": 7, "clip": true},
   "encoding": {"x": {"field": "x", "type": "quantitative"}, "y": {"field": "y", "type": "quantitative"}, "text": {"field": "s"},
    "color": {"field": "s", "type": "nominal", "scale": {"domain": ["s", "c", "v"], "range": ["#000000", "#ff0000", "#00cd00"]}, "legend": null}}}
 ]
},
{
 "width": 200, "height": 133.4,
 "title": {"text": "PCA", "offset": 11, "dx": 4},
 "view": {"stroke": "black", "strokeWidth": 1},
 "layer": [
  {"data": {"name": "hull"}, "transform": [{"filter": "datum.p == 3"}], "mark": {"type": "line", "color": "#ff2a1a", "strokeWidth": 1, "clip": true},
   "encoding": {"x": {"field": "x", "type": "quantitative", "scale": {"domain": [-3.447, 3.818], "nice": false, "zero": false}, "axis": {"title": "Dim 1", "values": [-3, -2, -1, 0, 1, 2, 3], "tickCount": 20, "format": "d", "domain": false, "labelOverlap": false, "tickSize": 3, "labelPadding": 1.5, "titleX": 103.8, "titleY": 27.3, "titleBaseline": "middle"}},
    "y": {"field": "y", "type": "quantitative", "scale": {"domain": [-2.49, 2.39], "nice": false, "zero": false}, "axis": {"title": "Dim 2", "values": [-2, -1, 0, 1, 2], "tickCount": 20, "format": "d", "domain": false, "labelOverlap": false, "labelAngle": 270, "labelAlign": "center", "labelBaseline": "bottom", "labelPadding": 6.5, "tickSize": 3.5, "titleX": -26, "titleY": 66.7, "titleAngle": 270, "titleAlign": "center", "titleBaseline": "middle"}},
    "detail": {"field": "g"}, "order": {"field": "o"}}},
  {"data": {"name": "pts"}, "mark": {"type": "text", "fontSize": 7, "clip": true},
   "encoding": {"x": {"field": "x", "type": "quantitative"}, "y": {"field": "y", "type": "quantitative"}, "text": {"field": "s"},
    "color": {"field": "s", "type": "nominal", "scale": {"domain": ["s", "c", "v"], "range": ["#000000", "#ff0000", "#00cd00"]}, "legend": null}}}
 ]
}
]
}
